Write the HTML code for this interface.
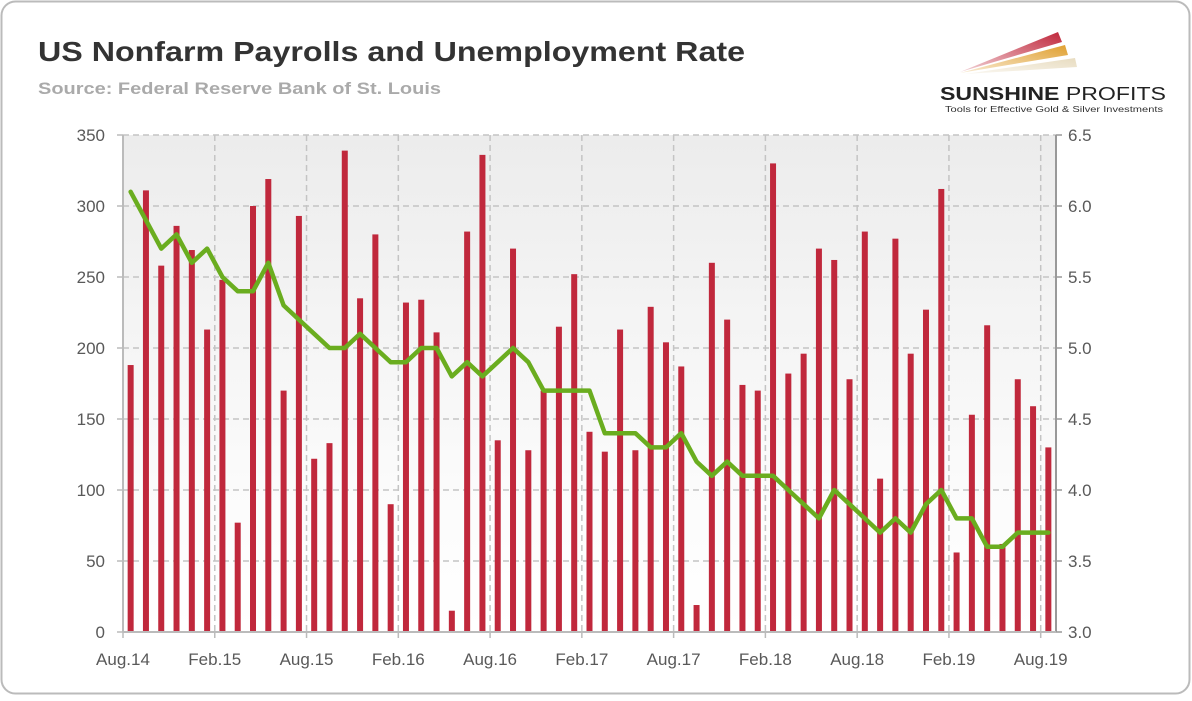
<!DOCTYPE html>
<html><head><meta charset="utf-8">
<style>
html,body{margin:0;padding:0;background:#fff;}
body{width:1192px;height:696px;overflow:hidden;font-family:"Liberation Sans",sans-serif;}
</style></head>
<body>
<svg id="chart" width="1192" height="696" xmlns="http://www.w3.org/2000/svg">
<defs>
<linearGradient id="bg" x1="0" y1="0" x2="0" y2="1">
<stop offset="0" stop-color="#ececec"/><stop offset="0.7" stop-color="#fbfbfb"/><stop offset="1" stop-color="#ffffff"/>
</linearGradient>
<linearGradient id="r1" x1="0" y1="1" x2="1" y2="0"><stop offset="0" stop-color="#c0283c" stop-opacity="0.2"/><stop offset="1" stop-color="#c0283c"/></linearGradient>
<linearGradient id="r2" x1="0" y1="1" x2="1" y2="0"><stop offset="0" stop-color="#e0a030" stop-opacity="0.2"/><stop offset="1" stop-color="#e0a030"/></linearGradient>
<linearGradient id="r3" x1="0" y1="1" x2="1" y2="0"><stop offset="0" stop-color="#e8dcc0" stop-opacity="0.2"/><stop offset="1" stop-color="#e8dcc0"/></linearGradient>
</defs>
<rect x="1.5" y="1.5" width="1188" height="692" rx="14" fill="#fff" stroke="#bbb" stroke-width="2"/>
<text x="38" y="61" font-size="28" font-weight="bold" fill="#333" textLength="707" lengthAdjust="spacingAndGlyphs">US Nonfarm Payrolls and Unemployment Rate</text>
<text x="38" y="94" font-size="17" font-weight="bold" fill="#aaa" textLength="403" lengthAdjust="spacingAndGlyphs">Source: Federal Reserve Bank of St. Louis</text>
<g>
<polygon points="960,72 1058,32 1062,42" fill="url(#r1)"/>
<polygon points="960,73 1065,45 1068,55" fill="url(#r2)"/>
<polygon points="965,74 1075,58 1077,67" fill="url(#r3)"/>
<text x="940" y="100" font-size="18" font-weight="bold" fill="#222" textLength="226" lengthAdjust="spacingAndGlyphs">SUNSHINE <tspan font-weight="normal">PROFITS</tspan></text>
<text x="945" y="112" font-size="8.5" fill="#333" textLength="218" lengthAdjust="spacingAndGlyphs">Tools for Effective Gold &amp; Silver Investments</text>
</g>
<rect x="123" y="135" width="933" height="497" fill="url(#bg)"/>
<g id="grid"></g><g id="bars"></g><g id="line"></g><g id="axes"></g>
</svg>
<script>
const monthLabels = ["Aug.14","Feb.15","Aug.15","Feb.16","Aug.16","Feb.17","Aug.17","Feb.18","Aug.18","Feb.19","Aug.19"];
const payrolls = [188,311,258,286,269,213,248,77,300,319,170,293,122,133,339,235,280,90,232,234,211,15,282,336,135,270,128,170,215,252,141,127,213,128,229,204,187,19,260,220,174,170,330,182,196,270,262,178,282,108,277,196,227,312,56,153,216,62,178,159,130];
const unemployment = [6.1,5.9,5.7,5.8,5.6,5.7,5.5,5.4,5.4,5.6,5.3,5.2,5.1,5.0,5.0,5.1,5.0,4.9,4.9,5.0,5.0,4.8,4.9,4.8,4.9,5.0,4.9,4.7,4.7,4.7,4.7,4.4,4.4,4.4,4.3,4.3,4.4,4.2,4.1,4.2,4.1,4.1,4.1,4.0,3.9,3.8,4.0,3.9,3.8,3.7,3.8,3.7,3.9,4.0,3.8,3.8,3.6,3.6,3.7,3.7,3.7];
const leftTicks = [0,50,100,150,200,250,300,350];
const rightTicks = ["3.0","3.5","4.0","4.5","5.0","5.5","6.0","6.5"];

const NS="http://www.w3.org/2000/svg";
const X0=123,X1=1056,Y0=632,Y1=135,N=payrolls.length;
const step=(X1-X0)/N;
const xc=i=>X0+(i+0.5)*step;
const xb=i=>X0+i*step;
const yL=v=>Y0-(v/350)*(Y0-Y1);
const yR=v=>Y0-((v-3)/3.5)*(Y0-Y1);
function mk(tag,attrs,parent){const e=document.createElementNS(NS,tag);for(const k in attrs)e.setAttribute(k,attrs[k]);document.getElementById(parent).appendChild(e);return e;}

leftTicks.forEach((t,k)=>{
  const y=yL(t);
  if(t>0){const g=mk('line',{x1:X0,x2:X1,y1:y,y2:y,stroke:'#c4c4c4','stroke-width':1.5,'stroke-dasharray':'6,4'},'grid');
  
  }
  const tl=mk('text',{x:105,y:y+6,'text-anchor':'end','font-size':17,fill:'#595959'},'axes');tl.textContent=t;
  
  
  const tr=mk('text',{x:1068,y:y+6,'font-size':17,fill:'#595959'},'axes');tr.textContent=rightTicks[k];
  
  
  const tk=mk('line',{x1:X1,x2:X1+6,y1:y,y2:y,stroke:'#999','stroke-width':1.5},'axes');
  
  
  const tk2=mk('line',{x1:X0-6,x2:X0,y1:y,y2:y,stroke:'#bbb','stroke-width':1.5},'axes');
  
  
});
monthLabels.forEach((m,k)=>{
  const x=xb(k*6);
  if(k>0){const g=mk('line',{x1:x,x2:x,y1:Y1,y2:Y0,stroke:'#c4c4c4','stroke-width':1.5,'stroke-dasharray':'6,4'},'grid');
  
  }
  const tk=mk('line',{x1:x,x2:x,y1:Y0,y2:Y0+6,stroke:'#bbb','stroke-width':1.5},'axes');
  
  
  const t=mk('text',{x:x,y:665,'text-anchor':'middle','font-size':17,fill:'#595959'},'axes');t.textContent=m;
  
  
});
payrolls.forEach((v,i)=>{
  const r=mk('rect',{x:xc(i)-3,y:yL(v),width:6,height:Y0-yL(v),fill:'#c0283c'},'bars');
  
  
});
const pl=mk('polyline',{points:unemployment.map((v,i)=>xc(i)+','+yR(v)).join(' '),fill:'none',stroke:'#6aad1f','stroke-width':4.5,'stroke-linejoin':'round','stroke-linecap':'round'},'line');


const ax1=mk('line',{x1:X0,x2:X0,y1:Y1,y2:Y0,stroke:'#bbb','stroke-width':2},'axes');


const ax2=mk('line',{x1:X1,x2:X1,y1:Y1,y2:Y0,stroke:'#999','stroke-width':2},'axes');


const ax3=mk('line',{x1:X0,x2:X1,y1:Y0,y2:Y0,stroke:'#bbb','stroke-width':2},'axes');


</script>
</body></html>
